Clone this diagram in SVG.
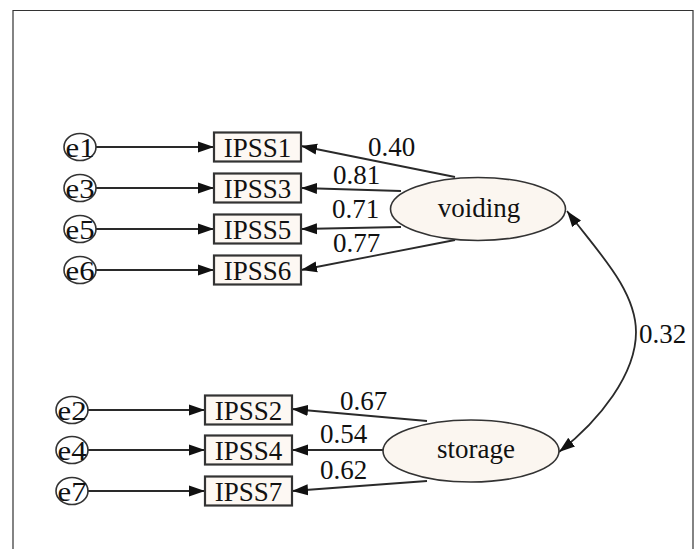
<svg xmlns="http://www.w3.org/2000/svg" width="696" height="549" viewBox="0 0 696 549">
<style>
.t{font-family:"Liberation Serif","Times New Roman",serif;font-size:27px;fill:#111;}
.m{text-anchor:middle;}
.box{fill:#fdf8f3;stroke:#333;stroke-width:2.2;}
.lat{fill:#fbf6f0;stroke:#333;stroke-width:1.6;}
.err{fill:#fff;stroke:#333;stroke-width:1.6;}
.c{fill:none;stroke:#2a2a2a;stroke-width:1.8;}
</style>
<defs>
<marker id="ah" markerUnits="userSpaceOnUse" markerWidth="16" markerHeight="12" refX="16" refY="6" orient="auto-start-reverse">
<path d="M0,0.5 L16,6 L0,11.5 z" fill="#111"/>
</marker>
</defs>
<rect width="696" height="549" fill="#fff"/>
<path d="M13 549 V10.5 H693 V549" fill="none" stroke="#333" stroke-width="1.2"/>

<g id="connectors">
<line class="c" x1="96" y1="147" x2="214" y2="147" marker-end="url(#ah)"/>
<line class="c" x1="96" y1="188" x2="214" y2="188" marker-end="url(#ah)"/>
<line class="c" x1="96" y1="229" x2="214" y2="229" marker-end="url(#ah)"/>
<line class="c" x1="96" y1="270" x2="214" y2="270" marker-end="url(#ah)"/>
<line class="c" x1="88" y1="410" x2="205" y2="410" marker-end="url(#ah)"/>
<line class="c" x1="88" y1="450" x2="205" y2="450" marker-end="url(#ah)"/>
<line class="c" x1="88" y1="491" x2="205" y2="491" marker-end="url(#ah)"/>
<line class="c" x1="455" y1="177" x2="301" y2="146" marker-end="url(#ah)"/>
<line class="c" x1="401" y1="191" x2="301" y2="188" marker-end="url(#ah)"/>
<line class="c" x1="401" y1="227" x2="301" y2="229" marker-end="url(#ah)"/>
<line class="c" x1="455" y1="240" x2="301" y2="270" marker-end="url(#ah)"/>
<line class="c" x1="427" y1="421" x2="292" y2="409" marker-end="url(#ah)"/>
<line class="c" x1="383" y1="450" x2="292" y2="450" marker-end="url(#ah)"/>
<line class="c" x1="427" y1="481" x2="292" y2="491" marker-end="url(#ah)"/>
<path class="c" d="M567 211 C598 252, 636 290, 636 332 C636 374, 600 420, 559 452" marker-start="url(#ah)" marker-end="url(#ah)"/>
</g>

<g id="labels">
<text class="t" x="368" y="156">0.40</text>
<text class="t" x="333" y="184">0.81</text>
<text class="t" x="332" y="218">0.71</text>
<text class="t" x="333" y="252">0.77</text>
<text class="t" x="340" y="410">0.67</text>
<text class="t" x="320" y="443">0.54</text>
<text class="t" x="320" y="479">0.62</text>
<text class="t" x="639" y="343">0.32</text>
</g>

<g id="e1"><ellipse class="err" cx="80" cy="147" rx="16" ry="13.5"/><text class="t m" x="80" y="156.5" textLength="29" lengthAdjust="spacingAndGlyphs">e1</text></g>
<g id="e3"><ellipse class="err" cx="80" cy="188" rx="16" ry="13.5"/><text class="t m" x="80" y="197.5" textLength="29" lengthAdjust="spacingAndGlyphs">e3</text></g>
<g id="e5"><ellipse class="err" cx="80" cy="229" rx="16" ry="13.5"/><text class="t m" x="80" y="238.5" textLength="29" lengthAdjust="spacingAndGlyphs">e5</text></g>
<g id="e6"><ellipse class="err" cx="80" cy="270" rx="16" ry="13.5"/><text class="t m" x="80" y="279.5" textLength="29" lengthAdjust="spacingAndGlyphs">e6</text></g>
<g id="e2"><ellipse class="err" cx="72" cy="410" rx="16" ry="13.5"/><text class="t m" x="72" y="419.5" textLength="29" lengthAdjust="spacingAndGlyphs">e2</text></g>
<g id="e4"><ellipse class="err" cx="72" cy="450" rx="16" ry="13.5"/><text class="t m" x="72" y="459.5" textLength="29" lengthAdjust="spacingAndGlyphs">e4</text></g>
<g id="e7"><ellipse class="err" cx="72" cy="491" rx="16" ry="13.5"/><text class="t m" x="72" y="500.5" textLength="29" lengthAdjust="spacingAndGlyphs">e7</text></g>

<g id="IPSS1"><rect class="box" x="214" y="132.5" width="87" height="29"/><text class="t m" x="257.5" y="156.5">IPSS1</text></g>
<g id="IPSS3"><rect class="box" x="214" y="173.5" width="87" height="29"/><text class="t m" x="257.5" y="197.5">IPSS3</text></g>
<g id="IPSS5"><rect class="box" x="214" y="214.5" width="87" height="29"/><text class="t m" x="257.5" y="238.5">IPSS5</text></g>
<g id="IPSS6"><rect class="box" x="214" y="255.5" width="87" height="29"/><text class="t m" x="257.5" y="279.5">IPSS6</text></g>
<g id="IPSS2"><rect class="box" x="205" y="395.5" width="87" height="29"/><text class="t m" x="248.5" y="419.5">IPSS2</text></g>
<g id="IPSS4"><rect class="box" x="205" y="435.5" width="87" height="29"/><text class="t m" x="248.5" y="459.5">IPSS4</text></g>
<g id="IPSS7"><rect class="box" x="205" y="476.5" width="87" height="29"/><text class="t m" x="248.5" y="500.5">IPSS7</text></g>

<g id="voiding"><ellipse class="lat" cx="478" cy="209" rx="87.5" ry="31.5"/><text class="t m" x="479" y="217">voiding</text></g>
<g id="storage"><ellipse class="lat" cx="471" cy="451" rx="88" ry="31"/><text class="t m" x="476" y="458">storage</text></g>
</svg>
